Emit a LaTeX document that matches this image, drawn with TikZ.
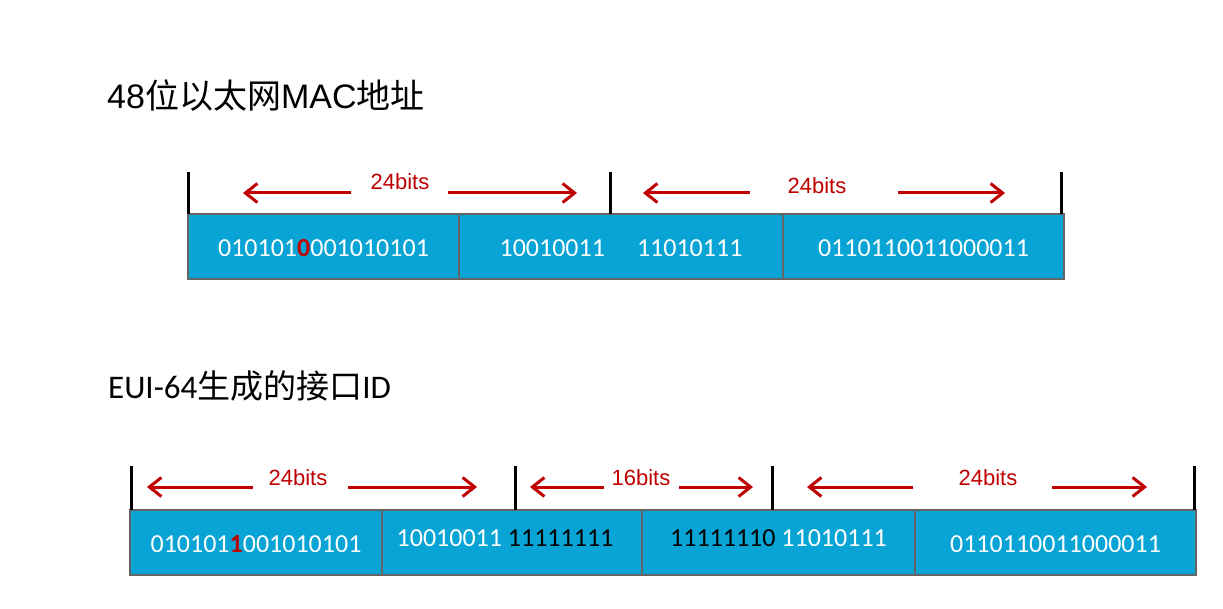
\documentclass[tikz,border=0pt]{standalone}
\usepackage{fontspec}
\setmainfont{Liberation Sans}
\newfontfamily\cjk{Noto Sans CJK SC}
\newfontfamily\cali{Carlito}
\usetikzlibrary{arrows.meta,positioning}
\definecolor{cellblue}{RGB}{8,164,214}
\definecolor{cellrim}{RGB}{100,100,100}
\definecolor{bitred}{RGB}{192,0,0}
\tikzset{
  cell/.style={draw=cellrim, line width=2.5pt, fill=cellblue, minimum height=65pt,
    inner sep=0pt, outer sep=0pt, anchor=west, text=white, text height=20pt, text depth=0pt,
    font=\cali\fontsize{26}{30}\selectfont},
  tickline/.style={black, line width=3pt},
  span/.style={bitred, line width=3pt, -{Straight Barb[length=12pt,width=19pt]}},
  bits/.style={text=bitred, inner sep=0pt, font=\fontsize{22}{26}\selectfont},
}
\newcommand{\flipbit}[1]{\textcolor{bitred}{\bfseries #1}}
\newcommand{\blackbits}[1]{\textcolor{black}{#1}}

\begin{document}
\begin{tikzpicture}[x=1pt, y=-1pt]
	\useasboundingbox (0,0) rectangle (1223,609);
	% Titles:
	\node[anchor=base west, inner sep=0pt, font=\fontsize{34}{40}\selectfont] (mactitle) at (107,109) {48{\cjk 位以太网}MAC{\cjk 地址}};
	\node[anchor=base west, inner sep=0pt, font=\cali\fontsize{33}{40}\selectfont] (euititle) at (108,399) {EUI-64{\cjk 生成的接口}ID};
	% 48-bit MAC address:
	\node[cell, minimum width=271pt] (mac1) at (188,246.5) {010101\flipbit{0}001010101};
	\node[cell, minimum width=324pt, right=0pt of mac1] (mac2) {10010011\hspace{32pt}11010111};
	\node[cell, minimum width=281pt, right=0pt of mac2] (mac3) {0110110011000011};
	\coordinate (mtickA) at (188,172); \coordinate (mtickA') at (188,214);
	\coordinate (mtickB) at (610,172); \coordinate (mtickB') at (610,214);
	\coordinate (mtickC) at (1061,172); \coordinate (mtickC') at (1061,214);
	\draw[tickline] (mtickA) -- (mtickA');
	\draw[tickline] (mtickB) -- (mtickB');
	\draw[tickline] (mtickC) -- (mtickC');
	\node[bits] (mbits1) at (400,182) {24bits};
	\node[bits] (mbits2) at (817,186) {24bits};
	\coordinate (mtail1l) at (351,193); \coordinate (mhead1l) at (243,193);
	\coordinate (mtail1r) at (448,193); \coordinate (mhead1r) at (577,193);
	\coordinate (mtail2l) at (750,193); \coordinate (mhead2l) at (643,193);
	\coordinate (mtail2r) at (898,193); \coordinate (mhead2r) at (1005,193);
	\draw[span] (mtail1l) -- (mhead1l);
	\draw[span] (mtail1r) -- (mhead1r);
	\draw[span] (mtail2l) -- (mhead2l);
	\draw[span] (mtail2r) -- (mhead2r);
	% EUI-64 interface ID:
	\node[cell, minimum width=252pt] (eui1) at (130,542.5) {010101\flipbit{1}001010101};
	\node[cell, minimum width=260pt, right=0pt of eui1] (eui2) {\raisebox{6pt}{10010011 \blackbits{11111111}}\hspace*{14pt}};
	\node[cell, minimum width=273pt, right=0pt of eui2] (eui3) {\raisebox{6pt}{\blackbits{11111110} 11010111}};
	\node[cell, minimum width=281pt, right=0pt of eui3] (eui4) {0110110011000011};
	\coordinate (etickA) at (131,466); \coordinate (etickA') at (131,510);
	\coordinate (etickB) at (515,466); \coordinate (etickB') at (515,510);
	\coordinate (etickC) at (772,466); \coordinate (etickC') at (772,510);
	\coordinate (etickD) at (1194,466); \coordinate (etickD') at (1194,510);
	\draw[tickline] (etickA) -- (etickA');
	\draw[tickline] (etickB) -- (etickB');
	\draw[tickline] (etickC) -- (etickC');
	\draw[tickline] (etickD) -- (etickD');
	\node[bits] (ebits1) at (298,478) {24bits};
	\node[bits] (ebits2) at (641,478) {16bits};
	\node[bits] (ebits3) at (988,478) {24bits};
	\coordinate (etail1l) at (253,487); \coordinate (ehead1l) at (147,487);
	\coordinate (etail1r) at (348,487); \coordinate (ehead1r) at (477,487);
	\coordinate (etail2l) at (604,487); \coordinate (ehead2l) at (530,487);
	\coordinate (etail2r) at (679,487); \coordinate (ehead2r) at (753,487);
	\coordinate (etail3l) at (913,487); \coordinate (ehead3l) at (807,487);
	\coordinate (etail3r) at (1052,487); \coordinate (ehead3r) at (1147,487);
	\draw[span] (etail1l) -- (ehead1l);
	\draw[span] (etail1r) -- (ehead1r);
	\draw[span] (etail2l) -- (ehead2l);
	\draw[span] (etail2r) -- (ehead2r);
	\draw[span] (etail3l) -- (ehead3l);
	\draw[span] (etail3r) -- (ehead3r);
\end{tikzpicture}
\end{document}
